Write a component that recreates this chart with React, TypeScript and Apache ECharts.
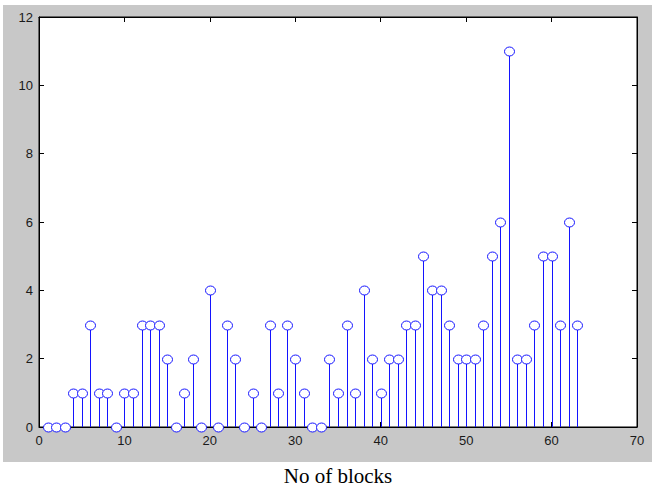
import React, { useEffect, useRef } from "react";
import * as echarts from "echarts";

const blockIndex: number[] = Array.from({ length: 63 }, (_, i) => i + 1);
const counts: number[] = [
  0, 0, 0, 1, 1, 3, 1, 1, 0, 1,
  1, 3, 3, 3, 2, 0, 1, 2, 0, 4,
  0, 3, 2, 0, 1, 0, 3, 1, 3, 2,
  1, 0, 0, 2, 1, 3, 1, 4, 2, 1,
  2, 2, 3, 3, 5, 4, 4, 3, 2, 2,
  2, 3, 5, 6, 11, 2, 2, 3, 5, 5,
  3, 6, 3,
];
const xTicks = { min: 0, max: 70, interval: 10 };
const yTicks = { min: 0, max: 12, interval: 2 };
const xTitle = "No of blocks";

const BLUE = "#1414ff";

export default function App() {
  const ref = useRef<HTMLDivElement>(null);
  useEffect(() => {
    if (!ref.current) return;
    const chart = echarts.init(ref.current, null, { renderer: "svg" });
    const pts = blockIndex.map((x, i) => [x, counts[i]]);
    const labelStyle = {
      color: "#1a1a1a",
      fontFamily: "Liberation Sans, Arial, sans-serif",
      fontSize: 13,
    };
    const tick = { show: true, inside: true, length: 5, lineStyle: { color: "#000", width: 1 } };
    chart.setOption({
      animation: false,
      backgroundColor: "transparent",
      grid: {
        left: 39,
        top: 17,
        right: 15,
        bottom: 54,
        show: true,
        backgroundColor: "#ffffff",
        borderColor: "#000000",
        borderWidth: 1,
      },
      xAxis: [
        {
          type: "value",
          ...xTicks,
          position: "bottom",
          axisLine: { show: true, onZero: false, lineStyle: { color: "#000", width: 1 } },
          axisTick: tick,
          splitLine: { show: false },
          axisLabel: { ...labelStyle, margin: 7 },
          name: xTitle,
          nameLocation: "middle",
          nameGap: 38,
          nameTextStyle: {
            color: "#000",
            fontFamily: "Liberation Serif, Times New Roman, serif",
            fontSize: 21,
          },
        },
        {
          type: "value",
          ...xTicks,
          position: "top",
          axisLine: { show: true, onZero: false, lineStyle: { color: "#000", width: 1 } },
          axisTick: tick,
          splitLine: { show: false },
          axisLabel: { show: false },
        },
      ],
      yAxis: [
        {
          type: "value",
          ...yTicks,
          position: "left",
          axisLine: { show: true, onZero: false, lineStyle: { color: "#000", width: 1 } },
          axisTick: tick,
          splitLine: { show: false },
          axisLabel: { ...labelStyle, margin: 6 },
        },
        {
          type: "value",
          ...yTicks,
          position: "right",
          axisLine: { show: true, onZero: false, lineStyle: { color: "#000", width: 1 } },
          axisTick: tick,
          splitLine: { show: false },
          axisLabel: { show: false },
        },
      ],
      series: [
        {
          type: "custom",
          data: pts,
          silent: true,
          z: 5,
          renderItem: (params: any, api: any) => {
            const x = api.value(0);
            const y = api.value(1);
            const top = api.coord([x, y]);
            const base = api.coord([x, 0]);
            const px = Math.round(top[0]);
            const cy = Math.round(top[1]) + 0.5;
            const by = Math.round(base[1]);
            return {
              type: "group",
              children: [
                {
                  type: "rect",
                  shape: { x: px, y: cy, width: 1, height: Math.max(0, by - cy) },
                  style: { fill: BLUE, stroke: null },
                },
                {
                  type: "ellipse",
                  shape: { cx: px + 0.5, cy, rx: 5, ry: 4.5 },
                  style: { fill: "#ffffff", stroke: BLUE, lineWidth: 1 },
                },
              ],
            };
          },
        },
      ],
    });
    return () => chart.dispose();
  }, []);
  return (
    <div style={{ position: "fixed", left: 0, top: 0, width: 652, height: 491, background: "#fff" }}>
      <div
        style={{ position: "absolute", left: 3, top: 5, width: 649, height: 457, background: "#c8c8c8" }}
      />
      <div ref={ref} style={{ position: "absolute", left: 0, top: 0, width: 652, height: 491 }} />
    </div>
  );
}
